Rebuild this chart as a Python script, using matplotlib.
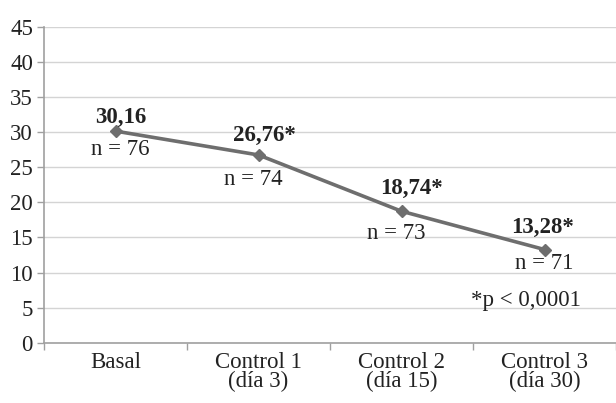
import matplotlib
matplotlib.use("Agg")
import matplotlib.pyplot as plt

categories = ["Basal", "Control 1\n(día 3)", "Control 2\n(día 15)", "Control 3\n(día 30)"]
values = [30.16, 26.76, 18.74, 13.28]
value_labels = ["30,16", "26,76*", "18,74*", "13,28*"]
n_labels = ["n = 76", "n = 74", "n = 73", "n = 71"]
yticks = [0, 5, 10, 15, 20, 25, 30, 35, 40, 45]
note = "*p < 0,0001"

plt.rcParams['font.family'] = ['Liberation Serif', 'DejaVu Serif']
FS = 16.5

fig = plt.figure(figsize=(6.16, 4.03), dpi=100)
ax = fig.add_axes([44/616, 1 - 342.7/403, 1 - 44/616, (342.7 - 27)/403])

x = list(range(len(values)))
ax.plot(x, values, color='#6e6e6e', lw=2.6, marker='D', ms=6.5,
        markerfacecolor='#6e6e6e', markeredgecolor='#6e6e6e', zorder=3)

ax.set_xlim(-0.5, 3.5)
ax.set_ylim(0, 45)
ax.set_yticks(yticks)
ax.set_yticklabels([str(v) for v in yticks], fontsize=FS, color='#222222')
ax.yaxis.grid(True, color='#d4d4d4', lw=1.0)
ax.set_axisbelow(True)

ax.set_xticks(x)
ax.set_xticklabels(categories, fontsize=FS, color='#222222', linespacing=0.85, va='top')
ax.set_xticks([-0.5, 0.5, 1.5, 2.5, 3.5], minor=True)
ax.tick_params(axis='x', which='major', length=0, pad=7)
ax.tick_params(axis='x', which='minor', length=5, color='#a0a0a0', width=1)
ax.tick_params(axis='y', length=5, color='#a0a0a0', width=1, pad=3)
for lbl in ax.get_xticklabels():
    if '\n' not in lbl.get_text():
        pass

for s in ['top', 'right']:
    ax.spines[s].set_visible(False)
for s in ['left', 'bottom']:
    ax.spines[s].set_color('#a0a0a0')
    ax.spines[s].set_linewidth(1.2)

val_off = [(5, 14), (6, 19), (10, 23), (-2, 22)]
n_off = [(5, -18), (-5, -25), (-5, -22), (0, -14)]
for i in range(len(values)):
    ax.annotate(value_labels[i], (x[i], values[i]), xytext=val_off[i],
                textcoords='offset pixels', ha='center', va='center',
                fontsize=FS, fontweight='bold', color='#222222')
    ax.annotate(n_labels[i], (x[i], values[i]), xytext=n_off[i],
                textcoords='offset pixels', ha='center', va='center',
                fontsize=FS, color='#222222')

ax.annotate(note, (x[3], values[3]), xytext=(-19, -51), textcoords='offset pixels',
            ha='center', va='center', fontsize=FS, color='#222222')

fig.savefig("out.png", dpi=100)
